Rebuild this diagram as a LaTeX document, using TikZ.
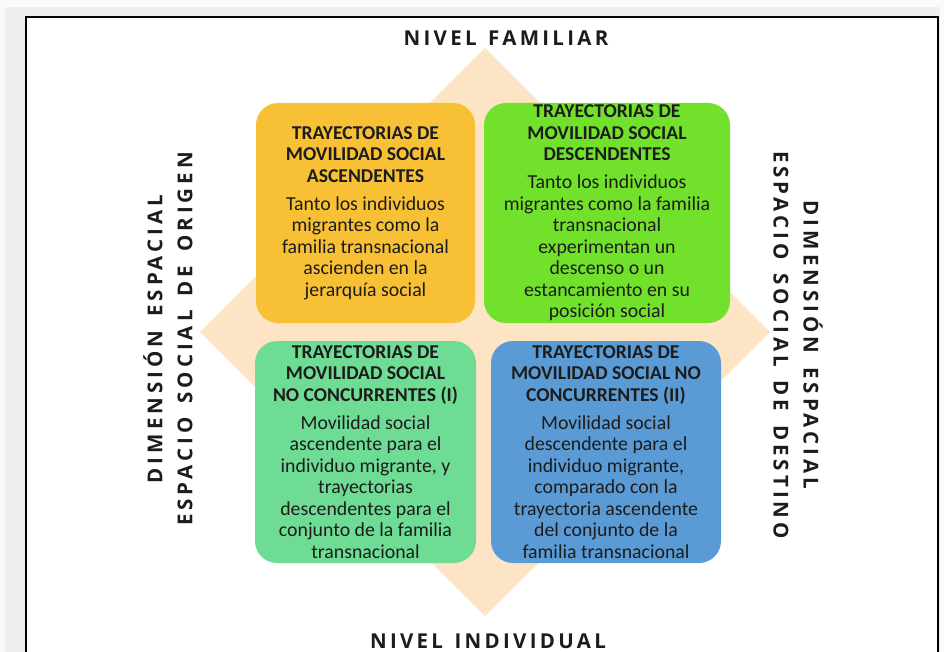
\documentclass[tikz,border=0pt]{standalone}
\usepackage{fontspec}
\setmainfont{Carlito}
\newfontfamily\axisfont[LetterSpace=16,WordSpace=1.35]{Open Sans}
\newfontfamily\axisfontv[LetterSpace=19.5,WordSpace=1.5]{Open Sans}
\definecolor{pagegray}{HTML}{EFEFEF}
\definecolor{pagelight}{HTML}{FAFAFA}
\definecolor{beige}{HTML}{FCE4C4}
\definecolor{boxorange}{HTML}{F8C135}
\definecolor{boxlime}{HTML}{72E12B}
\definecolor{boxmint}{HTML}{6FDC95}
\definecolor{boxblue}{HTML}{5B9BD5}
\definecolor{txtdark}{HTML}{1C1C1C}
\newcommand{\ttl}[1]{{\fontsize{19.6}{21.5}\selectfont\bfseries #1}}
\tikzset{
  quad/.style={rounded corners=22pt, inner sep=0pt, align=center, text=txtdark,
    font={\fontsize{19.8}{21.5}\selectfont}},
  axislabel/.style={inner sep=0pt, align=center, text=txtdark,
    font={\axisfont\bfseries\fontsize{20.5}{30}\selectfont}},
  sidelabel/.style={inner sep=0pt, align=center, text=txtdark,
    font={\axisfontv\bfseries\fontsize{20.5}{30}\selectfont}}
}
\begin{document}
\begin{tikzpicture}[x=1pt,y=-1pt]
\useasboundingbox (0,0) rectangle (944,652);
\fill[pagelight] (0,0) rectangle (944,652);
\fill[pagegray] (5,7) rectangle (940,652);
\draw[line width=2pt, fill=white] (26,17) rectangle (938,680);
% diamond
\fill[beige] (485,48) -- (770,332) -- (485,616) -- (200,332) -- cycle;
% quadrants
\node[quad, fill=boxorange, minimum width=219pt, minimum height=220pt] (asc) at (365.5,213)
 {\ttl{TRAYECTORIAS DE}\\\ttl{MOVILIDAD SOCIAL}\\\ttl{ASCENDENTES}\\[6.5pt]
  Tanto los individuos\\migrantes como la\\familia transnacional\\ascienden en la\\jerarquía social};
\node[quad, fill=boxlime, minimum width=246pt, minimum height=220pt] (desc) at (607,213)
 {\ttl{TRAYECTORIAS DE}\\\ttl{MOVILIDAD SOCIAL}\\\ttl{DESCENDENTES}\\[6.5pt]
  Tanto los individuos\\migrantes como la familia\\transnacional\\experimentan un\\descenso o un\\estancamiento en su\\posición social};
\node[quad, fill=boxmint, minimum width=221pt, minimum height=222pt] (nc1) at (365.5,452)
 {\ttl{TRAYECTORIAS DE}\\\ttl{MOVILIDAD SOCIAL}\\\ttl{NO CONCURRENTES (I)}\\[6.5pt]
  Movilidad social\\ascendente para el\\individuo migrante, y\\trayectorias\\descendentes para el\\conjunto de la familia\\transnacional};
\node[quad, fill=boxblue, minimum width=230pt, minimum height=222pt] (nc2) at (606,452)
 {\ttl{TRAYECTORIAS DE}\\\ttl{MOVILIDAD SOCIAL NO}\\\ttl{CONCURRENTES (II)}\\[6.5pt]
  Movilidad social\\descendente para el\\individuo migrante,\\comparado con la\\trayectoria ascendente\\del conjunto de la\\familia transnacional};
% axis labels
\node[axislabel] (fam) at (506,38) {NIVEL FAMILIAR};
\node[axislabel] (ind) at (488,641) {NIVEL INDIVIDUAL};
\node[sidelabel, rotate=90] (orig) at (168,339) {DIMENSIÓN ESPACIAL\\ESPACIO SOCIAL DE ORIGEN};
\node[sidelabel, rotate=-90] (dest) at (798,345) {DIMENSIÓN ESPACIAL\\ESPACIO SOCIAL DE DESTINO};
\end{tikzpicture}
\end{document}
